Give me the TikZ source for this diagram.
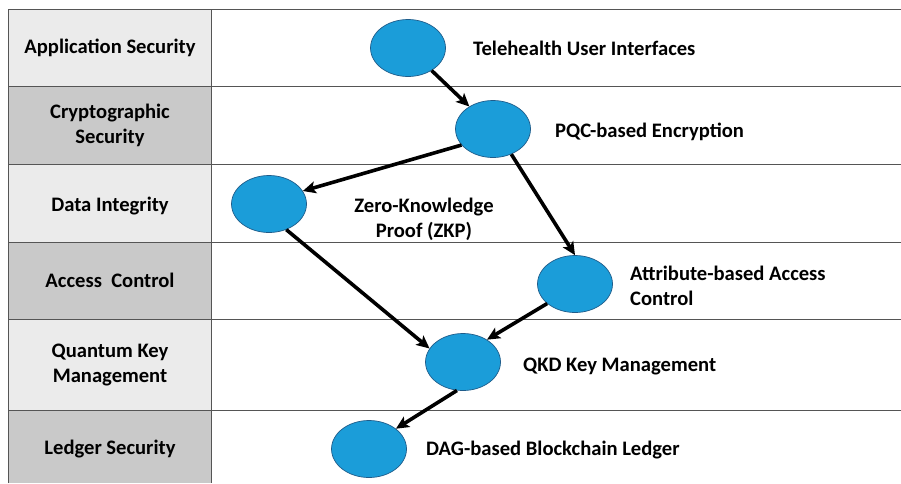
\documentclass[tikz,border=0pt]{standalone}
\usepackage{fontspec}
\setmainfont{Carlito}
\usetikzlibrary{shapes.geometric,arrows.meta}
\definecolor{cellA}{HTML}{EBEBEB}
\definecolor{cellB}{HTML}{C9C9C9}
\definecolor{blobfill}{HTML}{1B9DD9}
\definecolor{blobline}{HTML}{1F5C8A}
\definecolor{gridc}{HTML}{555555}
\tikzset{
  blob/.style={ellipse, draw=blobline, line width=0.7pt, fill=blobfill,
    minimum width=75pt, minimum height=57pt, inner sep=0pt},
  lbl/.style={font=\bfseries\fontsize{20.6}{25}\selectfont, inner sep=0pt},
  rowlbl/.style={lbl, align=center},
  flow/.style={line width=3.6pt, -{Stealth[length=13pt,width=12pt,inset=3pt]}},
  grid/.style={gridc, line width=0.8pt}
}
\begin{document}
\begin{tikzpicture}[x=1pt,y=-1pt]
\useasboundingbox (0,0) rectangle (901,483);
% left cells
\fill[cellA] (8,9) rectangle (211,86);
\fill[cellB] (8,86) rectangle (211,164);
\fill[cellA] (8,164) rectangle (211,242);
\fill[cellB] (8,242) rectangle (211,319);
\fill[cellA] (8,319) rectangle (211,410);
\fill[cellB] (8,410) rectangle (211,483);
% grid
\draw[grid] (8,483) -- (8,9) -- (901,9);
\draw[grid] (211,9) -- (211,483);
\foreach \yy in {86,164,242,319,410} \draw[grid] (8,\yy) -- (901,\yy);
% row labels
\node[rowlbl] (r1) at (110,47.5) {Application Security};
\node[rowlbl] (r2) at (110,125) {Cryptographic\\Security};
\node[rowlbl] (r3) at (110,206) {Data Integrity};
\node[rowlbl] (r4) at (110,280.5) {Access\ \ Control};
\node[rowlbl] (r5) at (110,365) {Quantum Key\\Management};
\node[rowlbl] (r6) at (110,449) {Ledger Security};
% ellipses
\node[blob] (tele) at (408,48) {};
\node[blob] (pqc) at (493,129) {};
\node[blob] (zkp) at (269,204) {};
\node[blob] (abac) at (575,284) {};
\node[blob] (qkd) at (463,362) {};
\node[blob] (dag) at (369,449) {};
% labels
\node[lbl, anchor=west] (tl) at (473,48) {Telehealth User Interfaces};
\node[lbl, anchor=west] (pl) at (555,132) {PQC-based Encryption};
\node[lbl, align=center] (zl) at (424,219) {Zero-Knowledge\\Proof (ZKP)};
\node[lbl, align=left, anchor=west] (al) at (630,286) {Attribute-based Access\\Control};
\node[lbl, anchor=west] (ql) at (523,366) {QKD Key Management};
\node[lbl, anchor=west] (dl) at (426,450) {DAG-based Blockchain Ledger};
% arrows
\draw[flow] (tele) -- (pqc);
\draw[flow] (pqc.207) -- (zkp.21);
\draw[flow] (pqc.-54) -- (abac.north);
\draw[flow] (zkp.-56) -- (qkd.158);
\draw[flow] (abac.215) -- (qkd.43);
\draw[flow] (qkd.-102) -- (dag.37);
\end{tikzpicture}
\end{document}
